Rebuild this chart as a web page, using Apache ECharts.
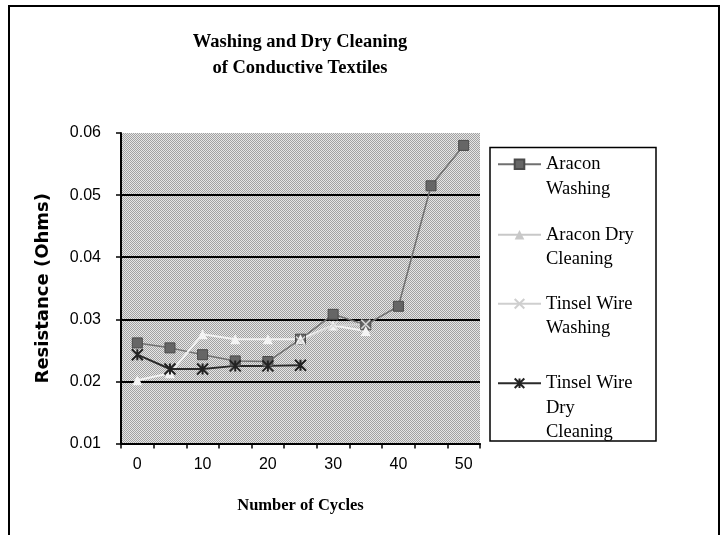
<!DOCTYPE html>
<html>
<head>
<meta charset="utf-8">
<script src="https://cdn.jsdelivr.net/npm/echarts@6/dist/echarts.min.js"></script>
<style>html,body{margin:0;padding:0;background:#fff;}#c{width:725px;height:535px;}</style>
</head>
<body>
<div id="c"></div>
<script>
// ---- data ----
const categories = ['0','5','10','15','20','25','30','35','40','45','50'];
const seriesNames = ['Aracon Washing','Aracon Dry Cleaning','Tinsel Wire Washing','Tinsel Wire Dry Cleaning'];
const aracWash = [0.0262, 0.0254, 0.0243, 0.0233, 0.0232, 0.0268, 0.0308, 0.0291, 0.0321, 0.0515, 0.0580];
const aracDry = [0.0202, 0.0213, 0.0276, 0.0268, 0.0268, 0.0268, 0.0290, 0.0281, null, null, null];
const tinselWash = [null, null, null, null, null, 0.0265, 0.0290, 0.0292, null, null, null];
const tinselDry = [0.0243, 0.0220, 0.0220, 0.0225, 0.0225, 0.0226, null, null, null, null, null];
const yTicks = ['0.01','0.02','0.03','0.04','0.05','0.06'];
const legendLines = [['Aracon','Washing'],['Aracon Dry','Cleaning'],['Tinsel Wire','Washing'],['Tinsel Wire','Dry','Cleaning']];

// stipple pattern for plot area
const pc = document.createElement('canvas');
pc.width = 2; pc.height = 2;
const pctx = pc.getContext('2d');
pctx.fillStyle = '#e6e6e6'; pctx.fillRect(0,0,2,2);
pctx.fillStyle = '#a2a2a2'; pctx.fillRect(0,0,1,1); pctx.fillRect(1,1,1,1);

const chart = echarts.init(document.getElementById('c'), null, {renderer:'canvas'});

const legendTops = [127.5, 198, 267, 322];
const legendIconColors = [null, '#c8c8c8', '#cfcfcf', null];
const legends = seriesNames.map((n, i) => {
  const lines = legendLines[i];
  const blanks = lines.length - 1;
  const txt = '\n'.repeat(blanks) + lines.join('\n');
  const item = {name: n};
  if (legendIconColors[i]) {
    item.itemStyle = {color: legendIconColors[i], borderColor: legendIconColors[i]};
    item.lineStyle = {color: legendIconColors[i]};
  }
  return {
    data: [item], orient: 'vertical', left: 497, top: legendTops[i], padding: 0,
    itemWidth: 43, itemHeight: 12, itemGap: 5, selectedMode: false,
    formatter: () => txt,
    textStyle: {fontFamily: 'Liberation Serif', fontSize: 18.5, lineHeight: 24.5, color: '#000'}
  };
});

const option = {
  animation: false,
  backgroundColor: '#fff',
  title: {
    text: 'Washing and Dry Cleaning\nof Conductive Textiles',
    left: 300, top: 29.5, padding: 0, textAlign: 'center',
    textStyle: {fontFamily: 'Liberation Serif', fontWeight: 'bold', fontSize: 18.5, lineHeight: 26, color: '#000'}
  },
  legend: legends,
  graphic: [
    {type: 'rect', shape: {x: 9, y: 6, width: 710, height: 600}, style: {fill: 'none', stroke: '#000', lineWidth: 2}, silent: true, z: 100},
    {type: 'rect', shape: {x: 490, y: 147.5, width: 166, height: 293.5}, style: {fill: 'none', stroke: '#000', lineWidth: 1.5}, silent: true, z: 100}
  ],
  grid: {left: 121, right: 245, top: 133, bottom: 91.5, show: true, borderWidth: 0,
    backgroundColor: {image: pc, repeat: 'repeat'}},
  xAxis: {
    type: 'category', data: categories, boundaryGap: true,
    name: 'Number of Cycles', nameLocation: 'middle', nameGap: 54,
    nameTextStyle: {fontFamily: 'Liberation Serif', fontWeight: 'bold', fontSize: 16.5, color: '#000'},
    axisLine: {show: true, lineStyle: {color: '#000', width: 2}},
    axisTick: {show: true, interval: 0, length: 5, lineStyle: {color: '#000', width: 1.5}},
    axisLabel: {interval: 1, margin: 13, fontFamily: 'Liberation Sans', fontSize: 16, color: '#000'},
    splitLine: {show: false}
  },
  yAxis: {
    type: 'value', min: 0.01, max: 0.06, interval: 0.01,
    name: 'Resistance (Ohms)', nameLocation: 'middle', nameGap: 69, nameRotate: 90,
    nameTextStyle: {fontFamily: 'DejaVu Sans', fontWeight: 'bold', fontSize: 18, color: '#000'},
    axisLine: {show: true, lineStyle: {color: '#000', width: 2}},
    axisTick: {show: true, length: 5, lineStyle: {color: '#000', width: 1.5}},
    axisLabel: {margin: 20, fontFamily: 'Liberation Sans', fontSize: 16, color: '#000',
      formatter: (v) => { const s = v.toFixed(2); return yTicks.indexOf(s) >= 0 ? s : ''; }},
    splitLine: {show: true, lineStyle: {color: ['#000','#000','#000','#000','#000','rgba(0,0,0,0)'], width: 2}}
  },
  series: [
    {name: seriesNames[0], type: 'line', data: aracWash, symbol: 'rect', symbolSize: 10,
      lineStyle: {color: '#707070', width: 1.5},
      itemStyle: {color: '#666', borderColor: '#4a4a4a', borderWidth: 1}, emphasis: {disabled: true}},
    {name: seriesNames[1], type: 'line', data: aracDry, symbol: 'triangle', symbolSize: 10,
      lineStyle: {color: '#f2f2f2', width: 2},
      itemStyle: {color: '#f4f4f4', borderColor: '#f4f4f4', borderWidth: 0}, emphasis: {disabled: true}},
    {name: seriesNames[2], type: 'line', data: tinselWash, symbol: 'path://M0,0L10,10M10,0L0,10', symbolSize: 9,
      lineStyle: {color: '#d4d4d4', width: 1.5},
      itemStyle: {color: '#d8d8d8', borderColor: '#d8d8d8', borderWidth: 1.5}, emphasis: {disabled: true}},
    {name: seriesNames[3], type: 'line', data: tinselDry, symbol: 'path://M0,0L10,10M10,0L0,10M5,0L5,10', symbolSize: 11,
      lineStyle: {color: '#2a2a2a', width: 2},
      itemStyle: {color: '#222', borderColor: '#222', borderWidth: 2}, emphasis: {disabled: true}}
  ]
};
chart.setOption(option);
</script>
</body>
</html>
